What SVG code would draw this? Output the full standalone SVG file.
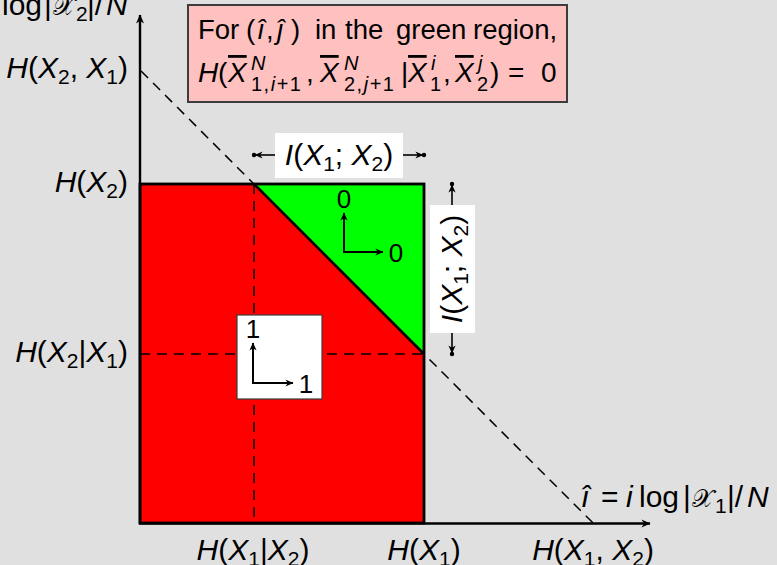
<svg xmlns="http://www.w3.org/2000/svg" width="777" height="565" viewBox="0 0 777 565">
<style>
text{font-family:"Liberation Sans","DejaVu Sans",sans-serif;fill:#000}
.lb{font-size:30px}
.bx{font-size:28px}
.b1{font-size:27.5px}
.it{font-style:italic}
.sb{font-size:21px}
.sc{font-size:20px}
.scr{font-family:"DejaVu Serif",serif;font-size:25px}
.ol{text-decoration:overline}
.dash{fill:none;stroke:#000;stroke-width:1.5;stroke-dasharray:10 7}
.ax{fill:none;stroke:#000;stroke-width:2.4}
.ar{fill:none;stroke:#000;stroke-width:2}
.dim{fill:none;stroke:#000;stroke-width:1.6}
.num{font-size:26px}
</style>
<defs>
<marker id="ah" viewBox="0 0 10 10" refX="9.5" refY="5" markerWidth="10" markerHeight="9" markerUnits="userSpaceOnUse" orient="auto">
<path d="M0,0.5 L10,5 L0,9.5 L3,5 Z" fill="#000"/>
</marker>
<marker id="ahs" viewBox="0 0 10 10" refX="9.5" refY="5" markerWidth="9" markerHeight="8" markerUnits="userSpaceOnUse" orient="auto">
<path d="M0,0.5 L10,5 L0,9.5 L3,5 Z" fill="#000"/>
</marker>
</defs>
<rect x="0" y="0" width="777" height="565" fill="#e0e0e0"/>

<g id="note">
<rect x="188" y="5" width="379" height="97" fill="#ffc0c0" stroke="#3c3c3c" stroke-width="2"/>
<text class="b1" y="39"><tspan x="198">For</tspan><tspan x="246">(</tspan><tspan x="257" class="it">î</tspan><tspan x="266">,</tspan><tspan x="277" class="it">ĵ</tspan><tspan x="291">)</tspan><tspan x="315">in</tspan><tspan x="345">the</tspan><tspan x="396">green</tspan><tspan x="473">region,</tspan></text>
<text class="bx" y="82"><tspan x="198" class="it">H</tspan><tspan x="218">(</tspan><tspan x="228" class="it ol">X</tspan><tspan x="306">,</tspan><tspan x="320" class="it ol">X</tspan><tspan x="401">|</tspan><tspan x="408" class="it ol">X</tspan><tspan x="443">,</tspan><tspan x="455" class="it ol">X</tspan><tspan x="490">)</tspan><tspan x="508">=</tspan><tspan x="541">0</tspan></text>
<text class="sc" y="70"><tspan x="251" class="it">N</tspan><tspan x="344" class="it">N</tspan><tspan x="431" class="it">i</tspan><tspan x="478" class="it">j</tspan></text>
<text class="sc" y="91" letter-spacing="1.5"><tspan x="251">1,</tspan><tspan class="it">i</tspan><tspan>+1</tspan><tspan x="344">2,</tspan><tspan class="it">j</tspan><tspan>+1</tspan><tspan x="430">1</tspan><tspan x="477">2</tspan></text>
</g>

<g id="region-red">
<rect x="140" y="184" width="284" height="339" fill="#ff0000"/>
</g>
<g id="region-green">
<polygon points="254,184 424,184 424,354" fill="#00ff00"/>
</g>

<g id="connectors">
<line class="dash" x1="254" y1="184" x2="254" y2="523"/>
<line class="dash" x1="140" y1="354" x2="424" y2="354"/>
<line class="dash" x1="141" y1="71" x2="594" y2="524" stroke-dasharray="9 6"/>
<line x1="254" y1="184" x2="424" y2="354" stroke="#000" stroke-width="2.6"/>
<rect x="140" y="184" width="284" height="339" fill="none" stroke="#000" stroke-width="2.8"/>
<line class="ax" x1="140" y1="524" x2="140" y2="15" marker-end="url(#ah)"/>
<line class="ax" x1="139" y1="523.5" x2="650" y2="523.5" marker-end="url(#ah)"/>
<line class="dim" x1="275" y1="155" x2="255" y2="155" marker-end="url(#ahs)"/>
<circle cx="254" cy="155" r="2.2"/>
<line class="dim" x1="403" y1="155" x2="423" y2="155" marker-end="url(#ahs)"/>
<circle cx="424" cy="155" r="2.2"/>
<line class="dim" x1="452" y1="205" x2="452" y2="185" marker-end="url(#ahs)"/>
<circle cx="452" cy="184" r="2.2"/>
<line class="dim" x1="452" y1="333" x2="452" y2="353" marker-end="url(#ahs)"/>
<circle cx="452" cy="354" r="2.2"/>
</g>

<g id="green-arrows">
<line class="ar" x1="344" y1="252" x2="344" y2="213" marker-end="url(#ahs)"/>
<line class="ar" x1="343" y1="252" x2="383" y2="252" marker-end="url(#ahs)"/>
<text class="num" x="344" y="208" text-anchor="middle">0</text>
<text class="num" x="396" y="262" text-anchor="middle">0</text>
</g>

<g id="red-box">
<rect x="237" y="315" width="85" height="84" fill="#ffffff" stroke="#3c3c3c" stroke-width="1.2"/>
<line class="ar" x1="253" y1="383" x2="253" y2="343" marker-end="url(#ahs)"/>
<line class="ar" x1="252" y1="383" x2="293" y2="383" marker-end="url(#ahs)"/>
<text class="num" x="253" y="338" text-anchor="middle">1</text>
<text class="num" x="306" y="393" text-anchor="middle">1</text>
</g>

<g id="mi-h">
<rect x="275" y="133" width="128" height="45" fill="#ffffff"/>
<text class="lb" x="339" y="165" text-anchor="middle"><tspan class="it">I</tspan>(<tspan class="it">X</tspan><tspan class="sb" dy="6">1</tspan><tspan dy="-6">; </tspan><tspan class="it">X</tspan><tspan class="sb" dy="6">2</tspan><tspan dy="-6">)</tspan></text>
</g>
<g id="mi-v">
<rect x="430" y="205" width="45" height="128" fill="#ffffff"/>
<text class="lb" transform="translate(462,269) rotate(-90)" x="0" y="0" text-anchor="middle"><tspan class="it">I</tspan>(<tspan class="it">X</tspan><tspan class="sb" dy="6">1</tspan><tspan dy="-6">; </tspan><tspan class="it">X</tspan><tspan class="sb" dy="6">2</tspan><tspan dy="-6">)</tspan></text>
</g>

<g id="y-labels">
<text class="lb" y="15"><tspan x="2">log</tspan><tspan x="44">|</tspan><tspan x="53" class="scr">𝒳</tspan><tspan x="76" y="21" class="sb">2</tspan><tspan x="87" y="15">|/</tspan><tspan x="106" class="it">N</tspan></text>
<text class="lb" x="128" y="78" text-anchor="end"><tspan class="it">H</tspan>(<tspan class="it">X</tspan><tspan class="sb" dy="6">2</tspan><tspan dy="-6">, </tspan><tspan class="it">X</tspan><tspan class="sb" dy="6">1</tspan><tspan dy="-6">)</tspan></text>
<text class="lb" x="128" y="192" text-anchor="end"><tspan class="it">H</tspan>(<tspan class="it">X</tspan><tspan class="sb" dy="6">2</tspan><tspan dy="-6">)</tspan></text>
<text class="lb" x="128" y="362" text-anchor="end"><tspan class="it">H</tspan>(<tspan class="it">X</tspan><tspan class="sb" dy="6">2</tspan><tspan dy="-6">|</tspan><tspan class="it">X</tspan><tspan class="sb" dy="6">1</tspan><tspan dy="-6">)</tspan></text>
</g>

<g id="x-labels">
<text class="lb" x="253" y="560" text-anchor="middle"><tspan class="it">H</tspan>(<tspan class="it">X</tspan><tspan class="sb" dy="6">1</tspan><tspan dy="-6">|</tspan><tspan class="it">X</tspan><tspan class="sb" dy="6">2</tspan><tspan dy="-6">)</tspan></text>
<text class="lb" x="424" y="560" text-anchor="middle"><tspan class="it">H</tspan>(<tspan class="it">X</tspan><tspan class="sb" dy="6">1</tspan><tspan dy="-6">)</tspan></text>
<text class="lb" x="593" y="560" text-anchor="middle"><tspan class="it">H</tspan>(<tspan class="it">X</tspan><tspan class="sb" dy="6">1</tspan><tspan dy="-6">, </tspan><tspan class="it">X</tspan><tspan class="sb" dy="6">2</tspan><tspan dy="-6">)</tspan></text>
<text class="lb" y="507"><tspan x="581" class="it">î</tspan><tspan x="601">=</tspan><tspan x="626" class="it">i</tspan><tspan x="639">log</tspan><tspan x="683">|</tspan><tspan x="692" class="scr">𝒳</tspan><tspan x="715" y="513" class="sb">1</tspan><tspan x="727" y="507">|/</tspan><tspan x="747" class="it">N</tspan></text>
</g>
</svg>
